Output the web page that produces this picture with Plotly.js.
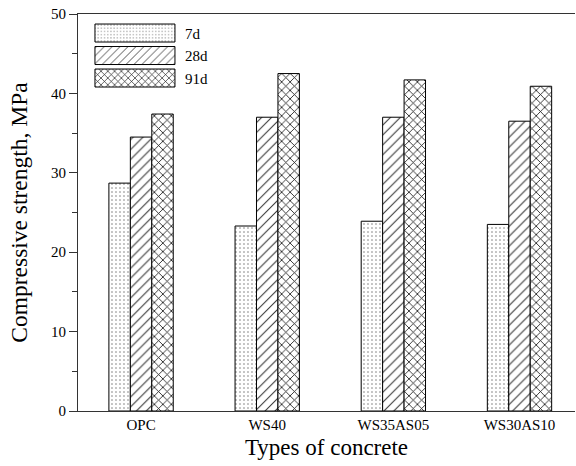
<!DOCTYPE html>
<html>
<head>
<meta charset="utf-8">
<script src="https://cdn.plot.ly/plotly-3.0.1.min.js"></script>
<style>html,body{margin:0;padding:0;background:#fff;}#chart{width:576px;height:466px;}</style>
</head>
<body>
<div id="chart"></div>
<script>
var categories = ["OPC", "WS40", "WS35AS05", "WS30AS10"];
var seriesNames = ["7d", "28d", "91d"];
var values7d = [28.7, 23.3, 23.9, 23.5];
var values28d = [34.5, 37.0, 37.0, 36.5];
var values91d = [37.4, 42.5, 41.7, 40.9];

var FONT = "Liberation Serif, Times New Roman, serif";
var patterns = [
  {shape: ".", size: 4, solidity: 0.12, fgcolor: "#777", bgcolor: "#fff"},
  {shape: "/", size: 7, solidity: 0.15, fgcolor: "#333", bgcolor: "#fff"},
  {shape: "x", size: 6, solidity: 0.25, fgcolor: "#111", bgcolor: "#fff"}
];
var allValues = [values7d, values28d, values91d];

var traces = seriesNames.map(function (name, i) {
  return {
    type: "bar",
    name: name,
    x: categories,
    y: allValues[i],
    marker: {
      color: "#fff",
      line: {color: "#000", width: 1},
      pattern: patterns[i]
    }
  };
});

var layout = {
  width: 576, height: 466,
  margin: {l: 78, r: 1, t: 14, b: 55},
  paper_bgcolor: "#fff", plot_bgcolor: "#fff",
  font: {family: FONT, size: 15, color: "#000"},
  barmode: "group",
  bargap: 0.49,
  bargroupgap: 0,
  showlegend: true,
  legend: {
    x: 0.014, y: 0.993, xanchor: "left", yanchor: "top",
    bgcolor: "rgba(0,0,0,0)", borderwidth: 0,
    itemwidth: 90,
    font: {family: FONT, size: 15, color: "#000"},
    tracegroupgap: 0
  },
  xaxis: {
    type: "category",
    range: [-0.5, 3.44],
    showline: true, mirror: true, linecolor: "#333", linewidth: 1,
    ticks: "", showgrid: false, zeroline: false,
    tickfont: {family: FONT, size: 15, color: "#000"},
    title: {text: "Types of concrete", font: {family: FONT, size: 23, color: "#000"}, standoff: 6}
  },
  yaxis: {
    range: [0, 50], dtick: 10,
    showline: true, linecolor: "#333", linewidth: 1,
    ticks: "outside", ticklen: 8, tickwidth: 1, tickcolor: "#333",
    minor: {dtick: 5, ticks: "outside", ticklen: 5, tickwidth: 1, tickcolor: "#333", showgrid: false},
    showgrid: false, zeroline: false,
    tickfont: {family: FONT, size: 15, color: "#000"},
    title: {text: "Compressive strength, MPa", font: {family: FONT, size: 23.5, color: "#000"}, standoff: 16}
  }
};

Plotly.newPlot("chart", traces, layout, {staticPlot: true}).then(function () {
  var pts = document.querySelectorAll(".legend .traces .legendpoints path");
  pts.forEach(function (p) {
    p.setAttribute("d", "M-40,-9H40V9H-40Z");
    p.style.strokeWidth = "1px";
    p.style.stroke = "#000";
  });
});
</script>
</body>
</html>
